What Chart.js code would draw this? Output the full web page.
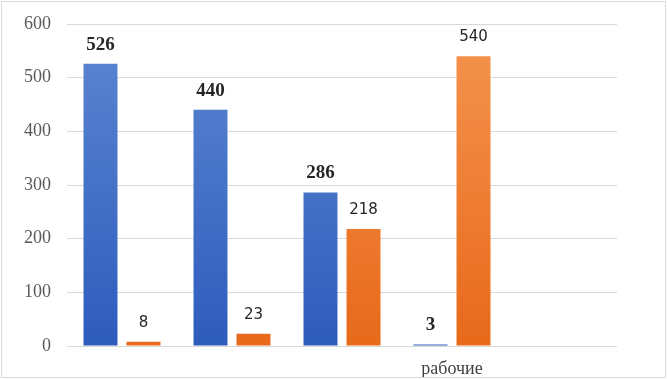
<!DOCTYPE html>
<html>
<head>
<meta charset="utf-8">
<script src="https://cdn.jsdelivr.net/npm/chart.js@4"></script>
<style>
  html, body { margin: 0; padding: 0; background: #fff; }
  #wrap {
    position: absolute; left: 1px; top: 1px;
    width: 663px; height: 375px;
    border: 1px solid #d9d9d9;
  }
  canvas { display: block; }
</style>
</head>
<body>
<div id="wrap"><canvas id="chart" width="663" height="375"></canvas></div>
<script>
const categories = ['', '', '', 'рабочие', ''];
const seriesBlue = [526, 440, 286, 3, null];
const seriesOrange = [8, 23, 218, 540, null];
const yTicks = [0, 100, 200, 300, 400, 500, 600];

// градиент сверху светлее, снизу темнее
function gradient(ctx, top, bottom) {
    const area = ctx.chart.chartArea;
    if (!area) return bottom;
    const g = ctx.chart.ctx.createLinearGradient(0, area.top, 0, area.bottom);
    g.addColorStop(0, top);
    g.addColorStop(1, bottom);
    return g;
}

// подписи значений над столбцами
const valueLabels = {
    id: 'valueLabels',
    afterDatasetsDraw(chart) {
        const ctx = chart.ctx;
        chart.data.datasets.forEach((ds, i) => {
            const meta = chart.getDatasetMeta(i);
            meta.data.forEach((bar, j) => {
                const v = ds.data[j];
                if (v === null || v === undefined) return;
                ctx.save();
                ctx.fillStyle = '#262626';
                ctx.textAlign = 'center';
                ctx.textBaseline = 'middle';
                ctx.font = i === 0 ? 'bold 19px "Liberation Serif"' : '15px "DejaVu Sans"';
                ctx.fillText(String(v), bar.x, bar.y - 19);
                ctx.restore();
            });
        });
    }
};

new Chart(document.getElementById('chart'), {
    type: 'bar',
    data: {
        labels: categories,
        datasets: [
            {
                data: seriesBlue,
                backgroundColor: c => gradient(c, '#5d87d2', '#2e5cbd'),
                categoryPercentage: 0.782,
                barPercentage: 0.79
            },
            {
                data: seriesOrange,
                backgroundColor: c => gradient(c, '#f5954f', '#e8691a'),
                categoryPercentage: 0.782,
                barPercentage: 0.79
            }
        ]
    },
    options: {
        responsive: false,
        animation: false,
        layout: { padding: { top: 22, right: 48, left: 0, bottom: 0 } },
        plugins: {
            legend: { display: false },
            tooltip: { enabled: false }
        },
        scales: {
            x: {
                grid: { display: false, drawTicks: false },
                border: { display: false },
                ticks: {
                    padding: 12,
                    color: '#404040',
                    font: { family: 'Liberation Serif', size: 18 }
                },
                afterFit: s => { s.height = 31; }
            },
            y: {
                min: 0,
                max: 600,
                afterBuildTicks: s => { s.ticks = yTicks.map(v => ({ value: v })); },
                grid: { color: '#d9d9d9', lineWidth: 1, drawTicks: false },
                border: { display: false },
                ticks: {
                    padding: 16,
                    color: '#595959',
                    font: { family: 'Liberation Serif', size: 18 }
                },
                // без лишних отступов, чтобы область графика совпала
                afterFit: s => { s.width = 65; s.paddingTop = 0; s.paddingBottom = 0; }
            }
        }
    },
    plugins: [valueLabels]
});
</script>
</body>
</html>
